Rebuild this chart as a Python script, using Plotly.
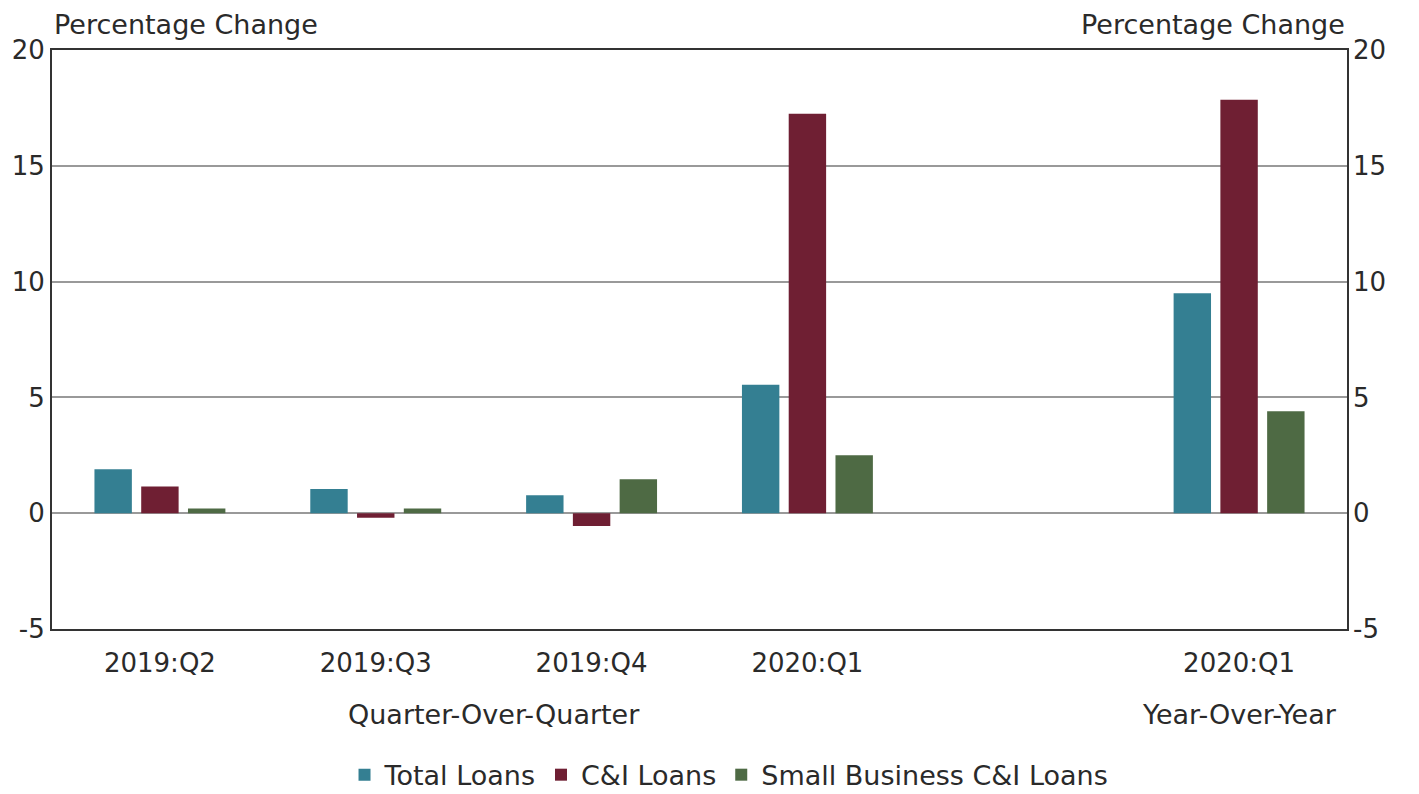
import plotly.graph_objects as go

positions = [0, 1, 2, 3, 5]
tick_labels = ["2019:Q2", "2019:Q3", "2019:Q4", "2020:Q1", "2020:Q1"]
total_loans = [1.9, 1.05, 0.78, 5.55, 9.5]
ci_loans = [1.15, -0.2, -0.55, 17.25, 17.85]
small_business = [0.2, 0.2, 1.47, 2.5, 4.4]
yticks = [-5, 0, 5, 10, 15, 20]
ytick_labels = ["-5", "0", "5", "10", "15", "20"]

series = [
    ("Total Loans", total_loans, "#347f92"),
    ("C&I Loans", ci_loans, "#6f1f33"),
    ("Small Business C&I Loans", small_business, "#4e6a44"),
]

FONT = "DejaVu Sans"
FS = 26      # tick labels
FT = 27      # titles, annotations, legend
fig = go.Figure()
for name, vals, color in series:
    fig.add_trace(go.Bar(x=positions, y=vals, name=name, marker_color=color,
                         marker_line_width=0))
# invisible trace on right axis
fig.add_trace(go.Scatter(x=[0], y=[0], yaxis="y2", showlegend=False,
                         mode="markers", marker_opacity=0, hoverinfo="skip"))

fig.update_layout(
    width=1411, height=786,
    margin=dict(l=44, r=72, t=42, b=165, autoexpand=False),
    plot_bgcolor="white", paper_bgcolor="white",
    font=dict(family=FONT, size=FS, color="#2a2a2a"),
    barmode="group", bargap=0.35, bargroupgap=0.2,
    showlegend=True,
    legend=dict(orientation="h", x=0.511, xanchor="center", xref="container",
                y=0.024, yanchor="middle", yref="container",
                font=dict(size=FT), traceorder="normal", itemwidth=30),
    xaxis=dict(range=[-0.5, 5.5], tickvals=positions, ticktext=tick_labels,
               showgrid=False, zeroline=False, showline=True, linecolor="#333333",
               linewidth=2, mirror=True, ticks="", ticklabelstandoff=10),
    yaxis=dict(range=[-5, 20], tickvals=yticks, ticktext=ytick_labels,
               showgrid=True, gridcolor="#999999",
               gridwidth=2, zeroline=True, zerolinecolor="#999999", zerolinewidth=2,
               showline=True, linecolor="#333333", linewidth=2, mirror=True, ticks=""),
    yaxis2=dict(range=[-5, 20], tickvals=yticks, ticktext=ytick_labels,
                overlaying="y", side="right",
                showgrid=False, zeroline=False, showline=False, ticks="",
                ticklabelstandoff=5),
)
fig.add_annotation(text="Percentage Change", xref="paper", yref="paper", x=0.0, y=1.0,
                   xanchor="left", yanchor="bottom", showarrow=False, yshift=8,
                   font=dict(size=FT))
fig.add_annotation(text="Percentage Change", xref="paper", yref="paper", x=1.0, y=1.0,
                   xanchor="right", yanchor="bottom", showarrow=False, yshift=8,
                   font=dict(size=FT))
fig.add_annotation(text="Quarter-Over-Quarter", xref="x", yref="paper", x=1.55, y=-0.1485,
                   xanchor="center", yanchor="middle", showarrow=False, font=dict(size=FT))
fig.add_annotation(text="Year-Over-Year", xref="x", yref="paper", x=5.0, y=-0.1485,
                   xanchor="center", yanchor="middle", showarrow=False, font=dict(size=FT))

fig.write_html("out.html")
